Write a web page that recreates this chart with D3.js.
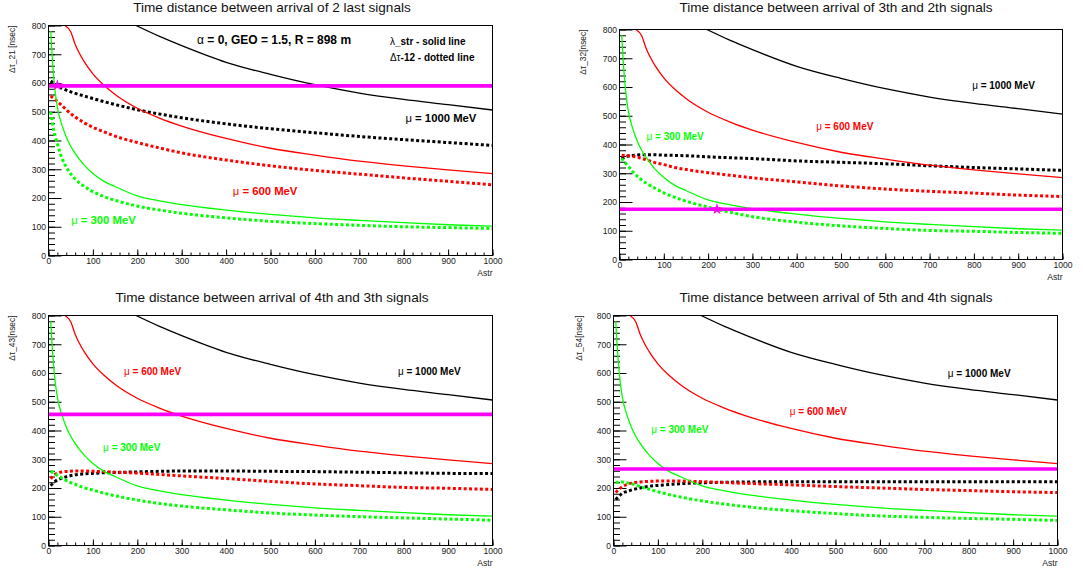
<!DOCTYPE html>
<html>
<head>
<meta charset="utf-8">
<script src="https://cdn.jsdelivr.net/npm/d3@7"></script>
<style>
  body { margin: 0; background: #fff; }
  svg { display: block; }
  text { font-family: "Liberation Sans", Arial, sans-serif; }
</style>
</head>
<body>
<div id="chart"></div>
<script>
// ---- data ----
// x grid (Astr) used by the dotted curves
const astr = [5, 10, 20, 30, 45, 60, 80, 100, 125, 150, 200, 250, 300, 400, 500, 600, 700, 800, 900, 1000];

// lambda_str solid curves (same in all four pads)
const solidGreenX = [5, 8, 10, 15, 20, 30, 40, 50, 60, 80, 100, 125, 150, 200, 250, 300, 400, 500, 600, 700, 800, 900, 1000];
const solidGreenY = [780, 700, 655, 570, 515, 455, 412, 380, 355, 315, 285, 258, 240, 207, 190, 177, 158, 143, 131, 122, 114, 107, 102];
const solidRedX = [37, 50, 60, 80, 100, 125, 150, 200, 250, 300, 400, 500, 600, 700, 800, 900, 1000];
const solidRedY = [800, 778, 735, 675, 632, 592, 560, 512, 478, 450, 407, 373, 349, 328, 312, 298, 285];
const solidBlackX = [197, 250, 300, 400, 500, 600, 700, 800, 900, 1000];
const solidBlackY = [800, 762, 730, 672, 630, 594, 565, 543, 525, 506];

// delta tau dotted curves, one set per pad
const dt21Black = [607, 601, 590, 582, 572, 564, 555, 546, 535, 525, 507, 492, 479, 458, 441, 427, 414, 403, 393, 383];
const dt21Red   = [555, 548, 536, 522, 500, 482, 462, 446, 430, 415, 393, 374, 357, 332, 312, 296, 283, 270, 258, 246];
const dt21Green = [500, 450, 388, 340, 295, 266, 241, 222, 205, 192, 172, 158, 147, 131, 119, 111, 105, 100, 97, 94];

const dt32Black = [350, 355, 360, 362, 364, 364, 364, 363, 362, 361, 357, 354, 351, 343, 338, 333, 326, 320, 315, 310];
const dt32Red   = [362, 362, 361, 359, 354, 347, 337, 330, 320, 313, 302, 293, 284, 270, 256, 245, 237, 231, 224, 219];
const dt32Green = [352, 342, 324, 305, 283, 266, 248, 232, 216, 203, 182, 164, 149, 130, 117, 108, 101, 98, 94, 91];

const dt43Black = [208, 216, 228, 234, 241, 246, 249, 251, 253, 254, 256, 258, 259, 259, 258, 257, 255, 253, 251, 250];
const dt43Red   = [232, 242, 251, 256, 258, 259, 259, 258, 257, 255, 252, 247, 242, 233, 223, 214, 208, 202, 199, 195];
const dt43Green = [258, 254, 244, 235, 222, 213, 201, 193, 182, 173, 158, 146, 137, 124, 113, 106, 100, 96, 92, 88];

const dt54Black = [160, 168, 182, 188, 195, 200, 206, 209, 212, 215, 218, 220, 221, 222, 222, 222, 222, 222, 222, 222];
const dt54Red   = [184, 192, 205, 212, 219, 221, 223, 224, 224, 224, 222, 219, 216, 211, 205, 200, 195, 191, 187, 184];
const dt54Green = [219, 220, 221, 218, 213, 205, 196, 187, 177, 169, 155, 144, 135, 121, 111, 103, 98, 94, 91, 87];

// magenta measured level per pad, and the marked points
const levels = [590, 175, 456, 266];
const starAstr = [20, 220, null, null];
const starDt   = [592, 175, null, null];

const titles = [
  "Time distance between arrival of 2 last signals",
  "Time distance between arrival of 3th and 2th signals",
  "Time distance between arrival of 4th and 3th signals",
  "Time distance between arrival of 5th and 4th signals"
];
const yTitles = ["\u0394\u03c4_21 [nsec]", "\u0394\u03c4_32[nsec]", "\u0394\u03c4_43[nsec]", "\u0394\u03c4_54[nsec]"];
const xTickLabels = [0, 100, 200, 300, 400, 500, 600, 700, 800, 900, 1000];
const yTickLabels = [0, 100, 200, 300, 400, 500, 600, 700, 800];
const muLabels = ["1000", "600", "300"];

// ---- layout ----
const boxes = [
  {x: 48.5, y: 25.5, w: 444, h: 230, tx: 272, ty: 11.5, yt: -33.5},
  {x: 619.5, y: 29.5, w: 443, h: 230, tx: 836, ty: 11.5, yt: -33.5},
  {x: 48.5, y: 315.5, w: 444, h: 230, tx: 272, ty: 301.5, yt: -33.5},
  {x: 613.5, y: 315.5, w: 444, h: 230, tx: 836, ty: 301.5, yt: -31.5}
];
// where the mu labels sit, in data units (1000, 600, 300), and their font size
const muPos = [
  {size: 11.3, p: [[804, 465], [415, 211], [51, 110]]},
  {size: 10, p: [[796, 592], [444, 449], [61, 417]]},
  {size: 10, p: [[787, 592], [170, 592], [123, 327]]},
  {size: 10, p: [[753, 587], [397, 455], [85, 390]]}
];
const colors = ["#000000", "#ff0000", "#00ff00"];

const svg = d3.select('#chart')
              .append('svg')
              .attr('width', 1083)
              .attr('height', 572);

function drawPanel(i) {
    const box = boxes[i];
    const xScale = d3.scaleLinear().domain([0, 1000]).range([0, box.w]);
    const yScale = d3.scaleLinear().domain([0, 800]).range([box.h, 0]);

    svg.append('text')
       .attr('x', box.tx).attr('y', box.ty)
       .attr('text-anchor', 'middle')
       .attr('font-size', '13.6px')
       .attr('fill', '#111')
       .text(titles[i]);

    const g = svg.append('g').attr('transform', `translate(${box.x}, ${box.y})`);

    g.append('clipPath').attr('id', 'clip' + i)
     .append('rect').attr('width', box.w).attr('height', box.h);

    // axes: ticks point into the frame, like ROOT
    const xAxis = g.append('g').attr('transform', `translate(0, ${box.h})`);
    xAxis.call(d3.axisBottom(xScale).tickValues(xTickLabels).tickSize(-6).tickPadding(2.5).tickFormat(d3.format('d')));
    xAxis.append('g').call(d3.axisBottom(xScale).tickValues(d3.range(0, 1001, 20)).tickSize(-3).tickFormat(''));

    const yAxis = g.append('g');
    yAxis.call(d3.axisLeft(yScale).tickValues(yTickLabels).tickSize(-13).tickPadding(2.5).tickFormat(d3.format('d')));
    yAxis.append('g').call(d3.axisLeft(yScale).tickValues(d3.range(0, 801, 20)).tickSize(-6.5).tickFormat(''));

    g.selectAll('.domain').remove();
    g.selectAll('.tick line').attr('stroke', '#000');
    g.selectAll('.tick text')
     .attr('font-family', '"Liberation Sans", Arial, sans-serif')
     .attr('font-size', '8.6px')
     .attr('fill', '#1a1a1a');

    g.append('text')
     .attr('transform', `translate(${box.yt}, 0) rotate(-90)`)
     .attr('text-anchor', 'end')
     .attr('font-size', '8.4px')
     .attr('fill', '#1a1a1a')
     .text(yTitles[i]);

    g.append('text')
     .attr('x', box.w).attr('y', box.h + 20)
     .attr('text-anchor', 'end')
     .attr('font-size', '8.6px')
     .attr('fill', '#1a1a1a')
     .text('Astr');

    const plot = g.append('g').attr('clip-path', `url(#clip${i})`);
    const line = d3.line()
                   .x(d => xScale(d[0]))
                   .y(d => yScale(d[1]))
                   .curve(d3.curveMonotoneX);

    const dotted = [[dt21Black, dt21Red, dt21Green],
                    [dt32Black, dt32Red, dt32Green],
                    [dt43Black, dt43Red, dt43Green],
                    [dt54Black, dt54Red, dt54Green]][i];
    dotted.forEach((vals, k) => {
        plot.append('path')
            .datum(astr.map((a, j) => [a, vals[j]]))
            .attr('d', line)
            .attr('fill', 'none')
            .attr('stroke', colors[k])
            .attr('stroke-width', 3)
            .attr('stroke-dasharray', '3,2.4');
    });

    const solids = [[solidBlackX, solidBlackY], [solidRedX, solidRedY], [solidGreenX, solidGreenY]];
    solids.forEach((s, k) => {
        plot.append('path')
            .datum(s[0].map((a, j) => [a, s[1][j]]))
            .attr('d', line)
            .attr('fill', 'none')
            .attr('stroke', colors[k])
            .attr('stroke-width', 1.3);
    });

    plot.append('line')
        .attr('x1', xScale(0)).attr('x2', xScale(1000))
        .attr('y1', yScale(levels[i])).attr('y2', yScale(levels[i]))
        .attr('stroke', '#ff00ff')
        .attr('stroke-width', 3.6);

    if (starAstr[i] !== null) {
        plot.append('path')
            .attr('d', d3.symbol(d3.symbolStar).size(42))
            .attr('transform', `translate(${xScale(starAstr[i])}, ${yScale(starDt[i])})`)
            .attr('fill', '#ff00ff');
    }

    // mu = ... labels
    muPos[i].p.forEach((pos, k) => {
        const t = g.append('text')
                   .attr('x', xScale(pos[0])).attr('y', yScale(pos[1]))
                   .attr('font-size', muPos[i].size + 'px')
                   .attr('fill', colors[k]);
        t.append('tspan').text('\u03bc');
        t.append('tspan').attr('font-weight', 'bold').text(` = ${muLabels[k]} MeV`);
    });

    g.append('rect')
     .attr('width', box.w).attr('height', box.h)
     .attr('fill', 'none')
     .attr('stroke', '#000')
     .attr('stroke-width', 1);

    return {g, xScale, yScale};
}

const pads = boxes.map((b, i) => drawPanel(i));

// header texts of the first pad
const p0 = pads[0];
const t1 = p0.g.append('text')
             .attr('x', p0.xScale(508)).attr('y', p0.yScale(736))
             .attr('text-anchor', 'middle')
             .attr('font-size', '12px');
t1.append('tspan').text('\u03b1');
t1.append('tspan').attr('font-weight', 'bold').text(' = 0, GEO = 1.5, R = 898 m');

const t2 = p0.g.append('text')
             .attr('x', p0.xScale(769)).attr('y', p0.yScale(733))
             .attr('font-size', '10px');
t2.append('tspan').text('\u03bb');
t2.append('tspan').attr('font-weight', 'bold').text('_str - solid line');

const t3 = p0.g.append('text')
             .attr('x', p0.xScale(769)).attr('y', p0.yScale(675))
             .attr('font-size', '10px');
t3.append('tspan').text('\u0394\u03c4');
t3.append('tspan').attr('font-weight', 'bold').text('-12 - dotted line');
</script>
</body>
</html>
